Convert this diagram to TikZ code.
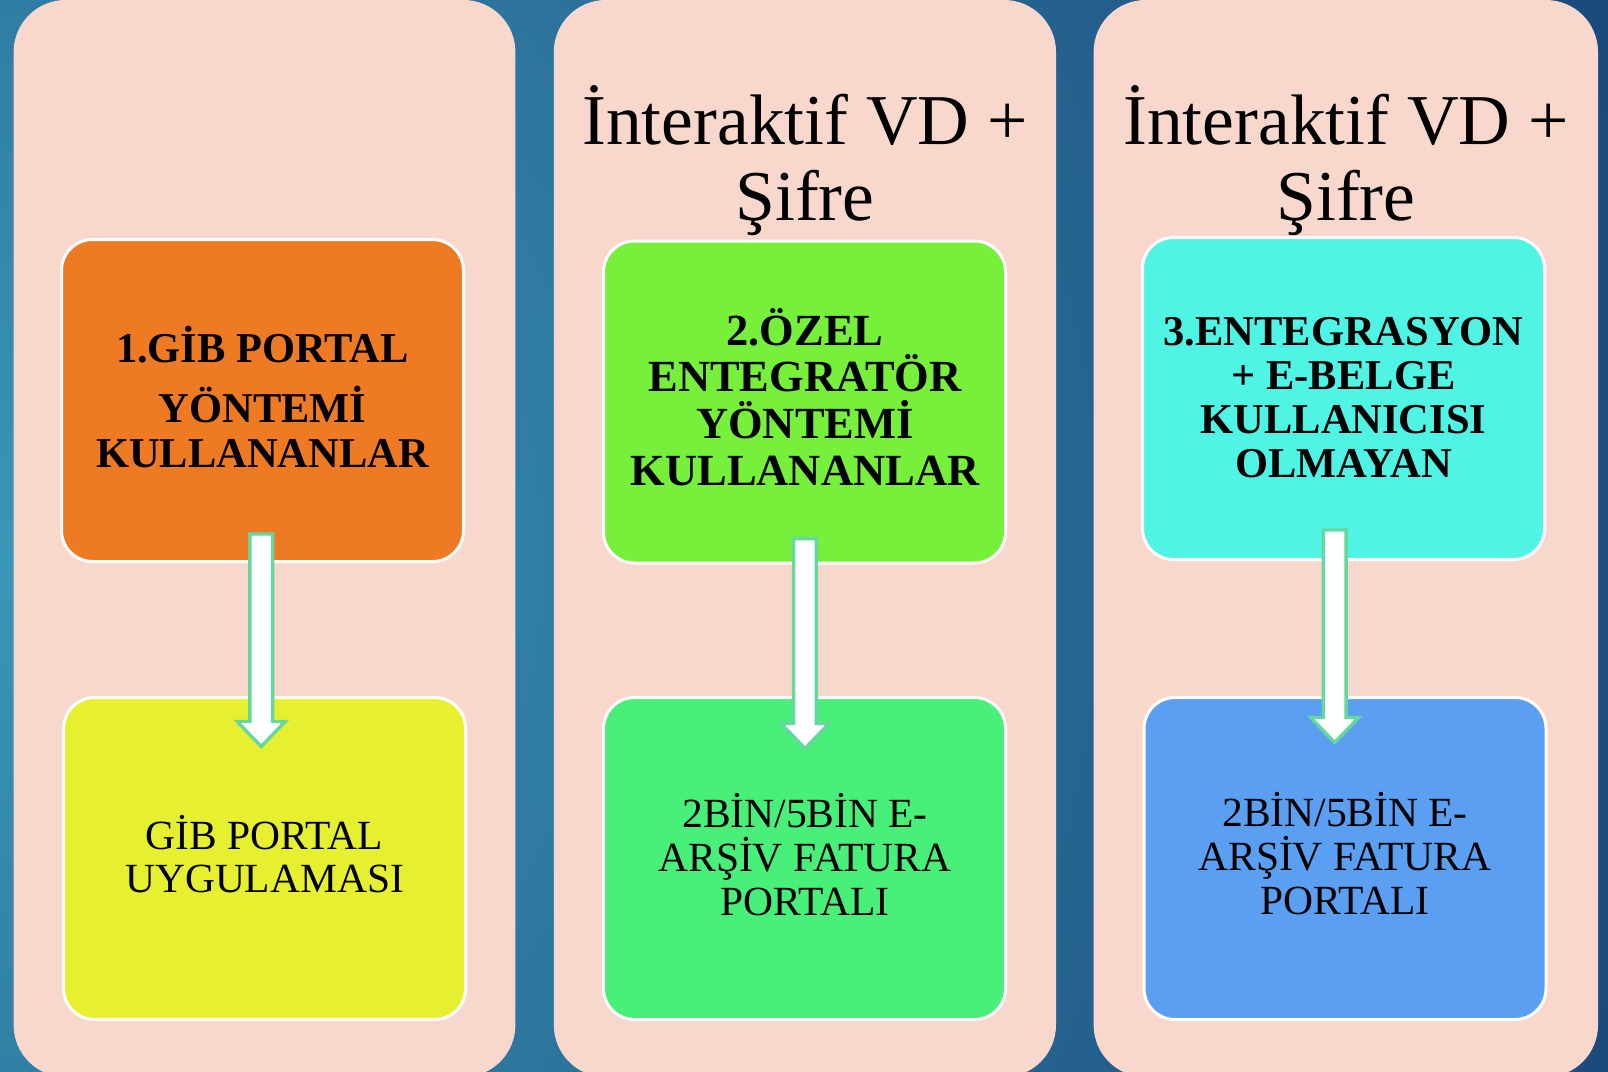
\documentclass[tikz,border=0pt]{standalone}
\usepackage{fontspec}
\setmainfont{Liberation Serif}
\usetikzlibrary{calc}
\definecolor{bgin}{HTML}{3A96B6}
\definecolor{bgout}{HTML}{0E2A64}
\definecolor{panelc}{HTML}{F8D7CC}
\definecolor{orangec}{HTML}{EE7B24}
\definecolor{yellowc}{HTML}{E6F030}
\definecolor{greenA}{HTML}{76F03A}
\definecolor{greenB}{HTML}{48F07A}
\definecolor{cyanc}{HTML}{50F4E5}
\definecolor{bluec}{HTML}{5A9FF1}
\definecolor{arrowc}{HTML}{64D89E}
\setlength\lineskiplimit{-100pt}
\begin{document}
\begin{tikzpicture}[x=1pt,y=-1pt]
\tikzset{
  panel/.style={fill=panelc, rounded corners=52pt},
  cbox/.style={draw=white, line width=3pt, rounded corners=31pt, minimum width=402pt, minimum height=322pt, inner sep=0pt},
  txt/.style={anchor=base, inner sep=0pt, text=black},
  barrow/.style={draw=arrowc, line width=3.4pt, fill=white, line join=miter}
}
\newcommand\blockarrow[2]{%
  \draw[barrow] ($(#1)+(-11.4,0)$) -- ($(#1)+(11.4,0)$) -- ($(#2)+(11.4,-25)$) -- ($(#2)+(24,-25)$) -- (#2) -- ($(#2)+(-24,-25)$) -- ($(#2)+(-11.4,-25)$) -- cycle;}
\useasboundingbox (0,0) rectangle (1608,1071);
% background
\begin{scope}
  \clip (0,0) rectangle (1608,1071);
  \shade[inner color=bgin, outer color=bgout] (0,560) circle (2400pt);
\end{scope}
% panels
\fill[panel] (13.6,0) rectangle (515.4,1077);
\fill[panel] (553.8,0) rectangle (1056,1077);
\fill[panel] (1093.6,0) rectangle (1598,1077);
% headers
\node[txt] (h2) at (805,144) {\parbox[t]{500pt}{\centering\fontsize{71.5}{76}\selectfont İnteraktif VD +\\Şifre}};
\node[txt] (h3) at (1346,144) {\parbox[t]{500pt}{\centering\fontsize{71.5}{76}\selectfont İnteraktif VD +\\Şifre}};
% boxes
\node[cbox, fill=orangec] (b1t) at (262.5,400.5) {};
\node[cbox, fill=yellowc] (b1b) at (264.6,858.5) {};
\node[cbox, fill=greenA] (b2t) at (804.5,402) {};
\node[cbox, fill=greenB] (b2b) at (804.5,858.5) {};
\node[cbox, fill=cyanc] (b3t) at (1343.5,398.5) {};
\node[cbox, fill=bluec] (b3b) at (1345,858.5) {};
% box texts
\node[txt] (t1t) at (262.5,362) {\parbox[t]{400pt}{\centering\fontsize{42.5}{45}\selectfont\bfseries 1.GİB PORTAL\\[15pt]YÖNTEMİ\\KULLANANLAR}};
\node[txt] (t2t) at (805,345) {\parbox[t]{400pt}{\centering\fontsize{44.5}{46.7}\selectfont\bfseries 2.ÖZEL\\ENTEGRATÖR\\YÖNTEMİ\\KULLANANLAR}};
\node[txt] (t3t) at (1343.5,345) {\parbox[t]{400pt}{\centering\fontsize{42.5}{44}\selectfont\bfseries 3.ENTEGRASYON\\+ E-BELGE\\KULLANICISI\\OLMAYAN}};
\node[txt] (t1b) at (264.6,849) {\parbox[t]{400pt}{\centering\fontsize{41.5}{43}\selectfont GİB PORTAL\\UYGULAMASI}};
\node[txt] (t2b) at (805,827) {\parbox[t]{400pt}{\centering\fontsize{41.5}{44}\selectfont 2BİN/5BİN E-\\ARŞİV FATURA\\PORTALI}};
\node[txt] (t3b) at (1345,826) {\parbox[t]{400pt}{\centering\fontsize{41.5}{44}\selectfont 2BİN/5BİN E-\\ARŞİV FATURA\\PORTALI}};
% arrows
\coordinate (a1s) at (261.2,534);
\coordinate (a1e) at (261.2,746.5);
\coordinate (a2s) at (805,538.6);
\coordinate (a2e) at (805,748.5);
\coordinate (a3s) at (1334.7,530);
\coordinate (a3e) at (1334.7,742.5);
\blockarrow{a1s}{a1e}
\blockarrow{a2s}{a2e}
\blockarrow{a3s}{a3e}
\end{tikzpicture}
\end{document}
